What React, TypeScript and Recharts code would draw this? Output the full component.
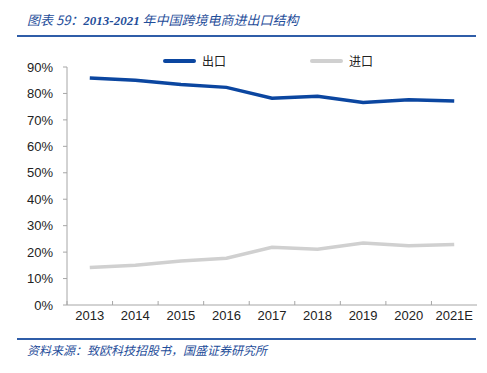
import { LineChart, Line, XAxis, YAxis } from 'recharts'

const years = ['2013', '2014', '2015', '2016', '2017', '2018', '2019', '2020', '2021E']
const exportShare = [85.8, 85.0, 83.4, 82.3, 78.2, 78.9, 76.6, 77.6, 77.1]
const importShare = [14.2, 15.0, 16.6, 17.7, 21.8, 21.1, 23.4, 22.4, 22.9]
const yTicks = [0, 10, 20, 30, 40, 50, 60, 70, 80, 90]

const data = years.map((year, i) => ({
  year,
  export: exportShare[i],
  import: importShare[i],
}))

const BLUE = '#0B46A0'
const GREY = '#D0D0D0'
const AXIS = '#A6A6A6'
const TICK_FONT = '"Liberation Sans", Arial, sans-serif'
const CJK = '"Noto Sans CJK SC", "Noto Sans CJK JP", sans-serif'

const PLOT_LEFT = 67
const PLOT_RIGHT = 477
const BAND = (PLOT_RIGHT - PLOT_LEFT) / years.length

function XTick(props: any) {
  const { x, y, payload } = props
  const axisY = 305
  return (
    <g>
      <line x1={x - BAND / 2} x2={x - BAND / 2} y1={axisY} y2={axisY - 4} stroke={AXIS} />
      <text x={x} y={y + 13} textAnchor="middle" fontSize={13} fill="#222" fontFamily={TICK_FONT}>
        {payload.value}
      </text>
    </g>
  )
}

export default function App() {
  return (
    <div style={{ position: 'absolute', left: 0, top: 0, width: 487, height: 373, background: '#fff', overflow: 'hidden' }}>
      <div
        style={{
          position: 'absolute',
          left: 27,
          top: 10,
          fontSize: 13,
          fontStyle: 'italic',
          color: '#1F4E9A',
          fontFamily: CJK,
          whiteSpace: 'nowrap',
        }}
      >
        图表 59：<span style={{ fontFamily: '"Liberation Serif", serif', fontWeight: 'bold' }}>2013-2021</span> 年中国跨境电商进出口结构
      </div>
      <div style={{ position: 'absolute', left: 17, top: 35, width: 459, height: 2, background: '#2F5DA8' }} />

      <div style={{ position: 'absolute', left: 163, top: 52, display: 'flex', alignItems: 'center', fontSize: 12, fontFamily: CJK, color: '#222' }}>
        <div style={{ width: 33, height: 4, background: BLUE, borderRadius: 2, marginRight: 6 }} />
        出口
      </div>
      <div style={{ position: 'absolute', left: 310, top: 52, display: 'flex', alignItems: 'center', fontSize: 12, fontFamily: CJK, color: '#222' }}>
        <div style={{ width: 33, height: 4, background: GREY, borderRadius: 2, marginRight: 6 }} />
        进口
      </div>

      <LineChart
        width={487}
        height={373}
        data={data}
        margin={{ top: 67, right: 487 - PLOT_RIGHT, bottom: 38, left: 0 }}
        style={{ position: 'absolute', left: 0, top: 0 }}
      >
        <XAxis
          dataKey="year"
          stroke={AXIS}
          tickLine={false}
          tickSize={0}
          height={30}
          interval={0}
          padding={{ left: BAND / 2, right: BAND / 2 }}
          tick={<XTick />}
        />
        <YAxis
          width={PLOT_LEFT}
          domain={[0, 90]}
          ticks={yTicks}
          stroke={AXIS}
          tickSize={4}
          tickMargin={10}
          tickFormatter={(v: number) => `${v}%`}
          tick={{ fontSize: 13, fill: '#222', fontFamily: TICK_FONT }}
        />
        <Line type="linear" dataKey="export" stroke={BLUE} strokeWidth={3.5} dot={false} isAnimationActive={false} />
        <Line type="linear" dataKey="import" stroke={GREY} strokeWidth={3.5} dot={false} isAnimationActive={false} />
      </LineChart>

      <div style={{ position: 'absolute', left: 17, top: 338, width: 459, height: 2, background: '#2F5DA8' }} />
      <div
        style={{
          position: 'absolute',
          left: 27,
          top: 341,
          fontSize: 12,
          fontStyle: 'italic',
          color: '#1F4E9A',
          fontFamily: CJK,
          whiteSpace: 'nowrap',
        }}
      >
        资料来源：致欧科技招股书，国盛证券研究所
      </div>
    </div>
  )
}
